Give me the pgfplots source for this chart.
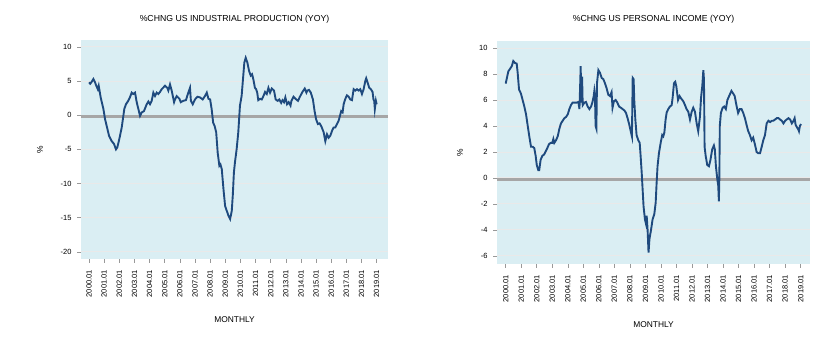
\documentclass[border=0pt]{standalone}
\usepackage{fontspec}
\setmainfont{Liberation Sans}
\usepackage{pgfplots}
\pgfplotsset{compat=1.18}
\definecolor{bgblue}{HTML}{DAEEF3}
\definecolor{linecol}{HTML}{1F4A7E}
\definecolor{gridcol}{HTML}{E9E9E9}
\definecolor{zerocol}{HTML}{A6A6A6}
\pgfplotsset{
  evstyle/.style={
    scale only axis,
    axis background/.style={fill=bgblue},
    axis line style={draw=none},
    axis lines*=left,
    tick align=outside,
    xtick pos=bottom, ytick pos=left,
    major tick length=4bp, minor tick length=2bp,
    every tick/.style={gray!80, line width=0.6pt},
    ymajorgrids, grid style={gridcol, line width=0.9pt},
    xtick={2000,2001,...,2019},
    xticklabels={2000.01,2001.01,2002.01,2003.01,2004.01,2005.01,2006.01,2007.01,2008.01,2009.01,2010.01,2011.01,2012.01,2013.01,2014.01,2015.01,2016.01,2017.01,2018.01,2019.01},
    minor x tick num=3,
    xticklabel shift=4bp,
    yticklabel shift=2bp,
    xticklabel style={rotate=90, anchor=east, font=\fontsize{7.5bp}{9bp}\selectfont},
    yticklabel style={font=\fontsize{7.5bp}{9bp}\selectfont},
    every axis title/.style={font=\fontsize{8.7bp}{10bp}\selectfont, anchor=center},
    xlabel style={font=\fontsize{8.4bp}{10bp}\selectfont, anchor=center},
    ylabel style={font=\fontsize{8.4bp}{10bp}\selectfont, anchor=center},
    clip=true,
  }
}
\begin{document}
\begin{tikzpicture}
\path[use as bounding box] (0,0) rectangle (822bp,354bp);
% ---------------- Left: Industrial production
\begin{axis}[evstyle,
  at={(81bp,95.3bp)}, anchor=south west,
  width=307bp, height=218.7bp,
  xmin=1999.47, xmax=2019.75, ymin=-21, ymax=11,
  ytick={-20,-15,-10,-5,0,5,10},
  yticklabels={-20,-15,-10,-5,0,5,10},
  title={\%CHNG US INDUSTRIAL PRODUCTION (YOY)},
  title style={at={(axis description cs:0.5,1.096)}},
  xlabel={MONTHLY},
  xlabel style={at={(axis description cs:0.5,-0.279)}},
  ylabel={\%},
  ylabel style={at={(axis description cs:-0.1336,0.5)}},
]
\draw[zerocol, line width=0.7pt] (axis cs:1999.47,0) -- (axis cs:2019.75,0);
\draw[zerocol, line width=1.4pt, yshift=-2.0bp] (axis cs:1999.47,0) -- (axis cs:2019.75,0);
\addplot[linecol, line width=1.9pt, sharp plot] coordinates {
(2000.00,4.8)(2000.08,4.6)(2000.18,4.9)(2000.29,5.3)(2000.38,4.9)(2000.48,4.3)(2000.58,3.8)(2000.64,4.3)(2000.77,2.6)(2000.95,0.9)
(2001.06,-0.6)(2001.17,-1.6)(2001.32,-3.0)(2001.50,-3.8)(2001.65,-4.2)(2001.78,-5.0)(2001.87,-4.7)(2002.00,-3.5)(2002.16,-1.8)(2002.33,0.9)
(2002.44,1.6)(2002.59,2.1)(2002.70,2.6)(2002.82,3.3)(2002.92,3.1)(2003.04,3.3)(2003.15,1.9)(2003.26,0.9)(2003.37,-0.1)(2003.48,0.4)
(2003.63,0.6)(2003.81,1.6)(2003.92,2.0)(2004.03,1.6)(2004.14,2.1)(2004.25,3.3)(2004.36,2.8)(2004.47,3.3)(2004.58,3.1)(2004.69,3.4)
(2004.80,3.8)(2005.02,4.3)(2005.17,4.0)(2005.24,3.6)(2005.35,4.5)(2005.46,3.6)(2005.62,1.9)(2005.68,2.3)(2005.79,2.8)(2005.97,2.4)
(2006.06,1.9)(2006.23,2.1)(2006.40,2.2)(2006.56,3.3)(2006.67,4.0)(2006.73,2.1)(2006.85,1.6)(2007.00,2.3)(2007.16,2.7)(2007.33,2.6)
(2007.51,2.3)(2007.66,2.8)(2007.78,3.3)(2007.89,2.4)(2008.00,2.3)(2008.10,0.9)(2008.20,-1.1)(2008.30,-1.6)(2008.40,-2.5)(2008.50,-5.5)
(2008.61,-7.4)(2008.68,-7.2)(2008.77,-7.9)(2008.88,-10.8)(2008.99,-13.3)(2009.10,-14.0)(2009.21,-14.7)(2009.32,-15.2)(2009.43,-14.0)(2009.50,-11.6)
(2009.57,-8.4)(2009.64,-6.9)(2009.75,-5.0)(2009.86,-2.5)(2009.97,1.4)(2010.08,2.8)(2010.19,5.8)(2010.26,7.7)(2010.35,8.4)(2010.46,7.7)
(2010.57,6.5)(2010.68,5.8)(2010.77,6.0)(2010.85,5.3)(2010.96,4.0)(2011.04,3.8)(2011.11,3.3)(2011.18,2.2)(2011.30,2.4)(2011.41,2.3)
(2011.52,2.8)(2011.63,3.4)(2011.74,3.1)(2011.85,4.0)(2011.96,3.3)(2012.07,3.9)(2012.22,3.6)(2012.33,2.3)(2012.46,2.1)(2012.57,2.3)
(2012.69,1.8)(2012.78,2.2)(2012.88,1.9)(2012.97,2.6)(2013.08,1.6)(2013.19,1.9)(2013.31,1.4)(2013.37,2.1)(2013.51,2.7)(2013.64,2.4)
(2013.80,2.1)(2013.91,2.6)(2014.07,3.3)(2014.25,3.9)(2014.36,3.3)(2014.42,3.6)(2014.53,3.7)(2014.65,3.3)(2014.79,2.3)(2014.90,0.6)
(2015.00,-0.6)(2015.12,-1.3)(2015.23,-1.2)(2015.34,-1.6)(2015.50,-2.5)(2015.61,-3.8)(2015.72,-2.8)(2015.83,-3.3)(2015.94,-3.0)(2016.05,-2.3)
(2016.16,-1.8)(2016.27,-1.8)(2016.38,-1.3)(2016.49,-0.8)(2016.60,0.1)(2016.66,0.6)(2016.75,0.4)(2016.82,1.6)(2016.93,2.4)(2017.04,2.9)
(2017.15,2.7)(2017.26,2.3)(2017.37,2.2)(2017.48,3.8)(2017.59,3.6)(2017.70,3.8)(2017.81,3.6)(2017.92,3.8)(2018.03,3.1)(2018.14,3.8)
(2018.25,5.0)(2018.31,5.4)(2018.40,4.8)(2018.51,4.0)(2018.62,3.8)(2018.73,3.4)(2018.79,2.3)(2018.84,2.1)(2018.88,0.9)(2018.95,2.1)(2019.00,1.6)
};
\end{axis}
% ---------------- Right: Personal income
\begin{axis}[evstyle,
  at={(497bp,90.3bp)}, anchor=south west,
  width=313bp, height=222.7bp,
  xmin=1999.44, xmax=2019.6, ymin=-6.6, ymax=10.54,
  ytick={-6,-4,-2,0,2,4,6,8,10},
  yticklabels={-6,-4,-2,0,2,4,6,8,10},
  title={\%CHNG US PERSONAL INCOME (YOY)},
  title style={at={(axis description cs:0.5,1.099)}},
  xlabel={MONTHLY},
  xlabel style={at={(axis description cs:0.5,-0.272)}},
  ylabel={\%},
  ylabel style={at={(axis description cs:-0.118,0.5)}},
]
\draw[zerocol, line width=0.7pt] (axis cs:1999.44,0) -- (axis cs:2019.6,0);
\draw[zerocol, line width=1.4pt, yshift=-2.0bp] (axis cs:1999.44,0) -- (axis cs:2019.6,0);
\addplot[linecol, line width=1.9pt, sharp plot] coordinates {
(2000.00,7.26)(2000.06,7.6)(2000.17,8.2)(2000.28,8.4)(2000.39,8.6)(2000.49,9.0)(2000.60,8.85)(2000.71,8.8)(2000.77,8.1)(2000.86,6.8)
(2000.98,6.5)(2001.09,6.0)(2001.20,5.5)(2001.31,4.9)(2001.42,4.0)(2001.52,3.2)(2001.63,2.4)(2001.74,2.4)(2001.84,2.3)(2001.93,1.7)
(2002.00,1.0)(2002.10,0.6)(2002.16,0.6)(2002.25,1.4)(2002.36,1.7)(2002.47,1.8)(2002.58,2.05)(2002.68,2.3)(2002.79,2.6)(2002.90,2.7)
(2003.00,2.7)(2003.07,3.0)(2003.13,2.7)(2003.24,2.9)(2003.35,3.2)(2003.46,3.8)(2003.56,4.2)(2003.67,4.4)(2003.78,4.6)(2003.89,4.7)
(2004.00,4.9)(2004.10,5.3)(2004.20,5.6)(2004.31,5.8)(2004.46,5.8)(2004.57,5.8)(2004.68,5.85)(2004.75,5.3)(2004.79,6.9)(2004.83,8.6)
(2004.87,5.8)(2004.92,7.8)(2004.96,5.6)(2005.07,5.8)(2005.17,5.85)(2005.28,5.5)(2005.39,5.3)(2005.50,5.5)(2005.58,5.8)(2005.67,6.3)
(2005.71,6.7)(2005.75,6.3)(2005.79,4.0)(2005.84,3.8)(2005.88,7.3)(2005.97,8.3)(2006.07,8.1)(2006.18,7.7)(2006.29,7.6)(2006.39,7.3)
(2006.50,6.9)(2006.61,6.4)(2006.72,6.3)(2006.82,6.6)(2006.88,5.4)(2006.97,5.9)(2007.08,6.0)(2007.19,5.8)(2007.30,5.5)(2007.42,5.4)
(2007.53,5.3)(2007.64,5.2)(2007.75,5.0)(2007.85,4.6)(2007.96,4.1)(2008.07,3.5)(2008.13,3.2)(2008.18,7.7)(2008.24,7.6)(2008.28,6.0)
(2008.35,4.5)(2008.43,3.3)(2008.54,2.9)(2008.63,2.7)(2008.69,1.7)(2008.76,0.4)(2008.82,-0.9)(2008.88,-2.2)(2008.97,-3.2)(2009.03,-3.5)
(2009.08,-2.9)(2009.14,-4.0)(2009.20,-5.75)(2009.26,-4.7)(2009.36,-4.0)(2009.46,-3.2)(2009.57,-2.8)(2009.66,-1.9)(2009.72,-0.4)(2009.78,0.9)
(2009.87,1.9)(2009.98,2.7)(2010.08,3.3)(2010.15,3.2)(2010.22,3.5)(2010.30,4.5)(2010.37,5.05)(2010.47,5.3)(2010.58,5.5)(2010.69,5.6)
(2010.75,6.15)(2010.84,7.3)(2010.92,7.4)(2010.99,7.05)(2011.10,6.0)(2011.20,6.3)(2011.31,6.1)(2011.44,5.9)(2011.55,5.6)(2011.65,5.3)
(2011.76,5.1)(2011.87,4.5)(2011.98,5.1)(2012.08,5.4)(2012.19,5.1)(2012.30,4.2)(2012.40,3.6)(2012.51,4.7)(2012.58,6.15)(2012.66,7.05)
(2012.73,8.3)(2012.77,7.6)(2012.81,2.4)(2012.88,1.7)(2012.98,1.0)(2013.09,0.9)(2013.19,1.4)(2013.30,2.2)(2013.41,2.5)(2013.47,2.2)
(2013.54,0.9)(2013.63,-0.1)(2013.69,-0.6)(2013.73,-1.8)(2013.76,-0.1)(2013.79,4.0)(2013.86,5.0)(2013.97,5.4)(2014.07,5.5)(2014.18,5.3)
(2014.28,6.0)(2014.39,6.3)(2014.54,6.7)(2014.65,6.5)(2014.75,6.3)(2014.86,5.6)(2014.97,5.0)(2015.08,5.3)(2015.19,5.3)(2015.30,5.0)
(2015.41,4.6)(2015.51,4.1)(2015.62,3.6)(2015.73,3.3)(2015.84,2.9)(2015.94,3.1)(2016.05,2.6)(2016.16,2.0)(2016.27,1.9)(2016.38,1.9)
(2016.49,2.4)(2016.59,2.9)(2016.70,3.3)(2016.81,4.2)(2016.92,4.4)(2017.03,4.3)(2017.14,4.4)(2017.24,4.4)(2017.35,4.5)(2017.46,4.6)
(2017.57,4.6)(2017.67,4.5)(2017.78,4.4)(2017.89,4.2)(2018.00,4.4)(2018.10,4.5)(2018.21,4.6)(2018.32,4.5)(2018.43,4.2)(2018.54,4.4)
(2018.61,4.6)(2018.67,4.1)(2018.76,3.9)(2018.86,3.7)(2018.89,3.6)(2018.95,4.0)(2019.02,4.15)
};
\end{axis}
\end{tikzpicture}
\end{document}
